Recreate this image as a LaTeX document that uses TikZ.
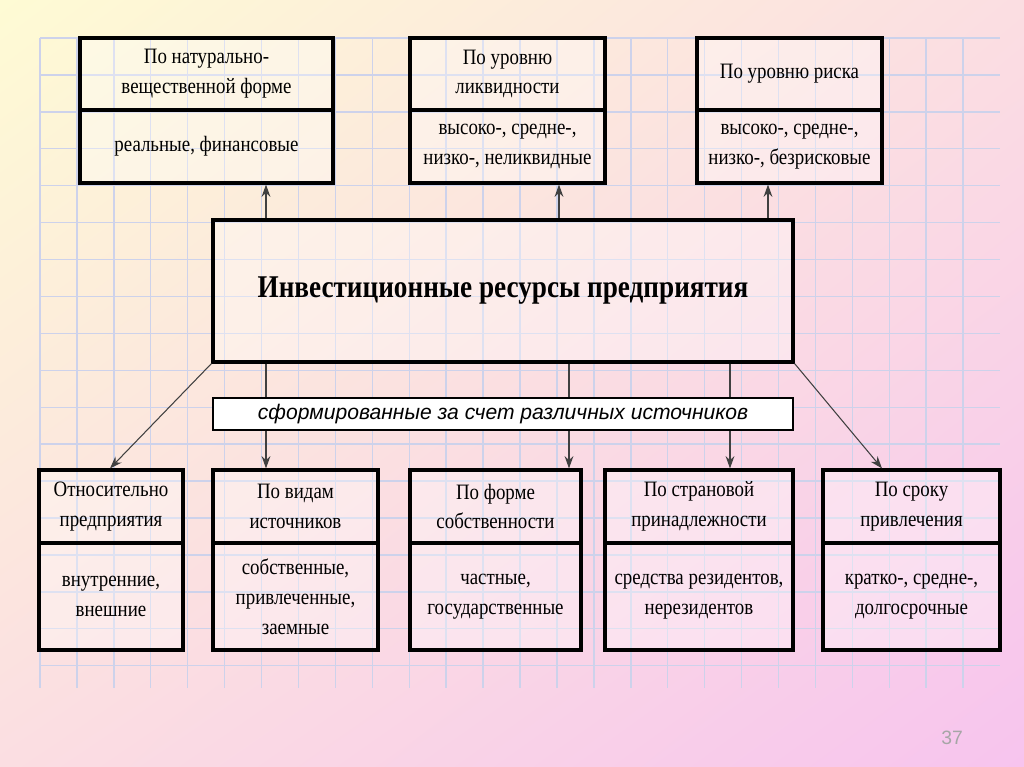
\documentclass[tikz,border=0pt]{standalone}
\usepackage{fontspec}
\setmainfont[FakeStretch=0.86]{Liberation Serif}
\setsansfont{Liberation Sans}
\usetikzlibrary{arrows.meta,shadings}
\definecolor{bgA}{RGB}{254,251,212}
\definecolor{bgB}{RGB}{247,196,238}
\definecolor{bgM}{RGB}{251,222,226}
\definecolor{gridc}{RGB}{205,210,235}
\begin{document}
\begin{tikzpicture}[
  box/.style={draw, line width=1.8pt, fill=white, fill opacity=0.35, text opacity=1, align=center, inner sep=2pt, font=\fontsize{12.5}{17}\selectfont},
  arr/.style={-{Stealth[length=7pt,width=5pt]}, line width=0.6pt, draw=black!75}
]
\useasboundingbox (0,0) rectangle (20.48,-15.34);
\shade[upper left=bgA, lower right=bgB, upper right=bgM, lower left=bgM] (0,0) rectangle (20.48,-15.34);
\begin{scope}[shift={(0.8,-0.76)}]
\draw[gridc, line width=0.8pt] (0,0) grid[step=0.7385] (19.2,-13.0);
\end{scope}
% top boxes
\node[box, minimum width=5.06cm, minimum height=1.44cm] (t1h) at (4.13,-1.48) {По натурально-\\вещественной форме};
\node[box, minimum width=5.06cm, minimum height=1.46cm] (t1b) at (4.13,-2.93) {реальные, финансовые};
\node[box, minimum width=3.9cm, minimum height=1.44cm] (t2h) at (10.15,-1.48) {По уровню\\ликвидности};
\node[box, minimum width=3.9cm, minimum height=1.46cm] (t2b) at (10.15,-2.93) {высоко-, средне-,\\низко-, неликвидные};
\node[box, minimum width=3.7cm, minimum height=1.44cm] (t3h) at (15.79,-1.48) {По уровню риска};
\node[box, minimum width=3.7cm, minimum height=1.46cm] (t3b) at (15.79,-2.93) {высоко-, средне-,\\низко-, безрисковые};
% central
\node[box, minimum width=11.6cm, minimum height=2.84cm, font=\fontsize{18}{20}\selectfont\bfseries] (cen) at (10.06,-5.82) {Инвестиционные ресурсы предприятия};
% arrows up
\draw[arr] (5.32,0 |- cen.north) -- (5.32,0 |- t1b.south);
\draw[arr] (11.18,0 |- cen.north) -- (11.18,0 |- t2b.south);
\draw[arr] (15.36,0 |- cen.north) -- (15.36,0 |- t3b.south);
% bottom boxes
\node[box, minimum width=2.88cm, minimum height=1.46cm] (b1h) at (2.22,-10.13) {Относительно\\предприятия};
\node[box, minimum width=2.88cm, minimum height=2.14cm] (b1b) at (2.22,-11.93) {внутренние,\\внешние};
\node[box, minimum width=3.3cm, minimum height=1.46cm] (b2h) at (5.91,-10.13) {По видам\\источников};
\node[box, minimum width=3.3cm, minimum height=2.14cm] (b2b) at (5.91,-11.93) {собственные,\\привлеченные,\\заемные};
\node[box, minimum width=3.42cm, minimum height=1.46cm] (b3h) at (9.91,-10.13) {По форме\\собственности};
\node[box, minimum width=3.42cm, minimum height=2.14cm] (b3b) at (9.91,-11.93) {частные,\\государственные};
\node[box, minimum width=3.76cm, minimum height=1.46cm] (b4h) at (13.98,-10.13) {По страновой\\принадлежности};
\node[box, minimum width=3.76cm, minimum height=2.14cm] (b4b) at (13.98,-11.93) {средства резидентов,\\нерезидентов};
\node[box, minimum width=3.54cm, minimum height=1.46cm] (b5h) at (18.23,-10.13) {По сроку\\привлечения};
\node[box, minimum width=3.54cm, minimum height=2.14cm] (b5b) at (18.23,-11.93) {кратко-, средне-,\\долгосрочные};
% arrows down
\draw[arr] (cen.south west) -- (2.2,0 |- b1h.north);
\draw[arr] (5.32,0 |- cen.south) -- (5.32,0 |- b2h.north);
\draw[arr] (11.38,0 |- cen.south) -- (11.38,0 |- b3h.north);
\draw[arr] (14.6,0 |- cen.south) -- (14.6,0 |- b4h.north);
\draw[arr] (cen.south east) -- (17.64,0 |- b5h.north);
% banner
\node[draw, line width=0.8pt, fill=white, minimum width=11.6cm, minimum height=0.64cm, font=\sffamily\itshape\fontsize{12}{14}\selectfont] (ban) at (10.06,-8.28) {сформированные за счет различных источников};
\node[text=gray!70, font=\sffamily\fontsize{11}{13}\selectfont] (pg) at (19.04,-14.76) {37};
\end{tikzpicture}
\end{document}
